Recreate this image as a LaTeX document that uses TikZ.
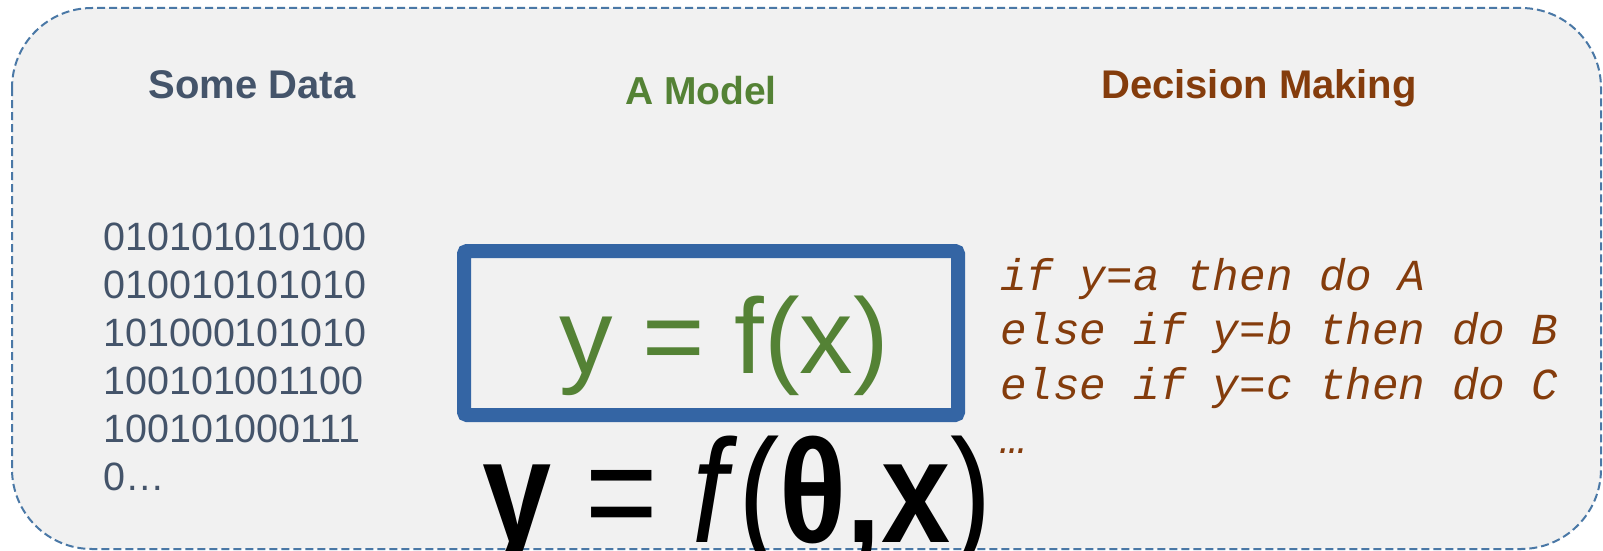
\documentclass[tikz,border=0pt]{standalone}
\usepackage{fontspec}
\setmainfont{Liberation Sans}
\newfontfamily\codefont{Liberation Mono}
\usetikzlibrary{positioning}
\definecolor{framefill}{HTML}{F1F1F1}
\definecolor{frameline}{HTML}{4A78A6}
\definecolor{datagray}{HTML}{44546A}
\definecolor{modelgreen}{HTML}{548235}
\definecolor{decbrown}{HTML}{843C0C}
\definecolor{boxblue}{HTML}{3465A4}

\begin{document}
\begin{tikzpicture}[x=1pt,y=-1pt,
	head/.style={anchor=base,inner sep=0pt},
	bits/.style={anchor=base west,inner sep=0pt,text=datagray,font=\fontsize{39.5}{48}\selectfont},
	code/.style={anchor=base west,inner sep=0pt,text=decbrown,font=\fontsize{44.3}{54}\selectfont\codefont\itshape}]
			\useasboundingbox (0,0) rectangle (1603,551);
			\draw[frameline,fill=framefill,line width=2pt,dash pattern=on 8pt off 4pt,rounded corners=80pt] (12,8) rectangle (1601,549);
			% column heads
			\path (252,99) node[head,text=datagray,font=\fontsize{40}{48}\selectfont\bfseries](data){Some Data};
			\path (701,104) node[head,text=modelgreen,font=\fontsize{39}{48}\selectfont\bfseries](model){A Model};
			\path (1259,98) node[head,text=decbrown,font=\fontsize{40}{48}\selectfont\bfseries](decision){Decision Making};
			% data
			\foreach \gt[count=\i from 0] in {010101010100,010010101010,101000101010,100101001100,100101000111,0…}\path (103,250+48*\i) node[bits](bit\i){\gt};
			% model
			\path (711,333) node[draw=boxblue,line width=14pt,rounded corners=3pt,minimum width=494pt,minimum height=164pt](box){};
			\path (724,373) node[head,text=modelgreen,font=\fontsize{107}{120}\selectfont](fx){y = f(x)};
			\path (737,542) node[head,font=\fontsize{147}{160}\selectfont](ftheta){\scalebox{0.845}[1]{\textbf{y} = \textit{f}(\textbf{θ,x})}};
			% decisions
			\foreach \gt[count=\i from 0] in {if y=a then do A,else if y=b then do B,else if y=c then do C,…}\path (1000,290+54.5*\i) node[code](rule\i){\gt};
		\end{tikzpicture}
\end{document}
